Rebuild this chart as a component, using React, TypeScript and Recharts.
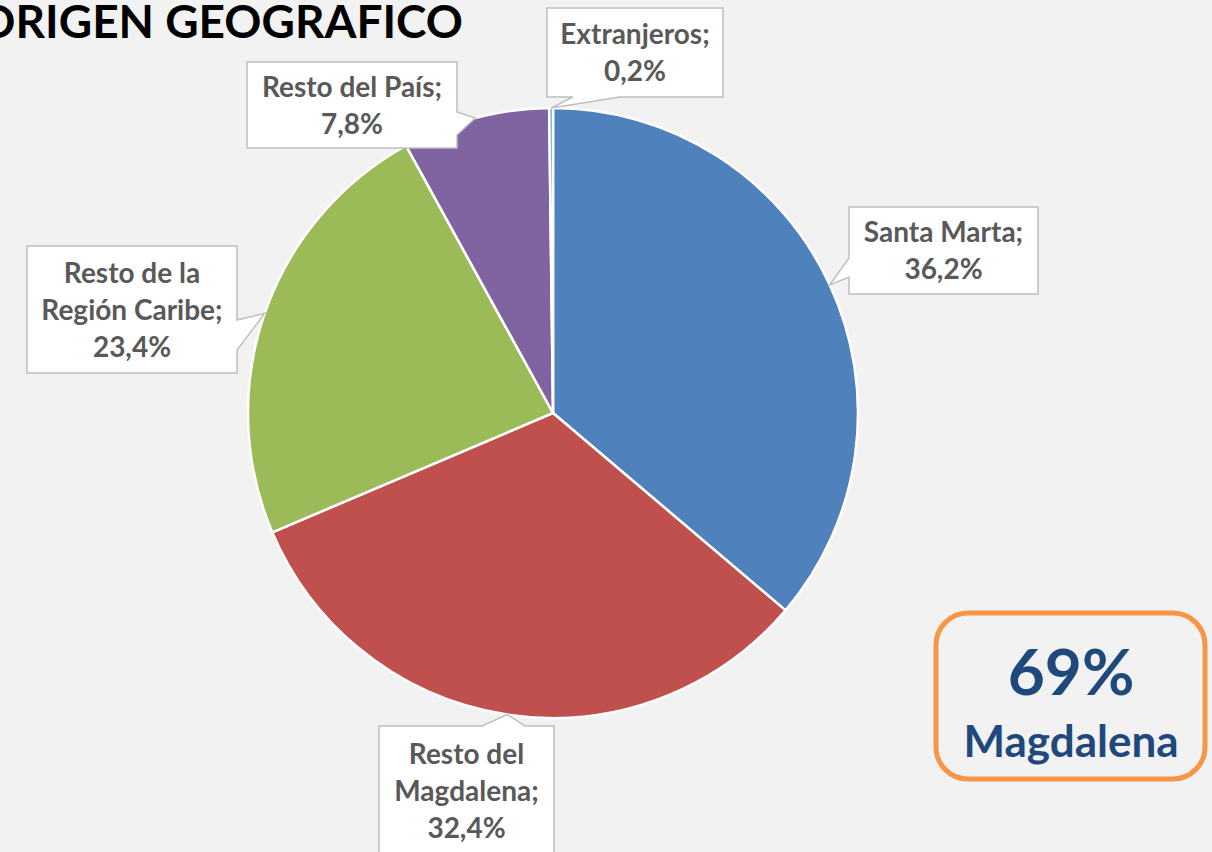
import React from 'react'
import { PieChart, Pie, Cell } from 'recharts'

// data
const categories = ['Santa Marta', 'Resto del Magdalena', 'Resto de la Región Caribe', 'Resto del País', 'Extranjeros']
const shares = [36.2, 32.4, 23.4, 7.8, 0.2]
const sliceColors = ['#4f81bd', '#c0504d', '#9bbb59', '#8064a2', '#4bacc6']
const wordsPerLine = [[2], [2, 1], [3, 2], [3], [1]]
const highlightValue = '69%'
const highlightLabel = 'Magdalena'
const title = 'ORIGEN GEOGRAFICO'

const data = categories.map((name, i) => ({ name, value: shares[i] }))

// callout boxes (layout only)
type Box = { x: number; y: number; w: number; h: number; side: 'top' | 'right' | 'bottom' | 'left'; a: number; b: number }
const boxes: Box[] = [
  { x: 849, y: 207, w: 189, h: 87, side: 'left', a: 258, b: 277 },
  { x: 379, y: 726, w: 175, h: 130, side: 'top', a: 482, b: 525 },
  { x: 27, y: 246, w: 210, h: 127, side: 'right', a: 320, b: 350 },
  { x: 247, y: 62, w: 210, h: 86, side: 'right', a: 112, b: 135 },
  { x: 547, y: 8, w: 176, h: 89, side: 'bottom', a: 573, b: 620 },
]

const FONT = 'Lato, "Open Sans", sans-serif'
const RAD = Math.PI / 180
const LINE = 37

const calloutPath = (bx: Box, tx: number, ty: number) => {
  const { x, y, w, h, side, a, b } = bx
  let d = `M${x},${y}`
  if (side === 'top') d += ` L${a},${y} L${tx},${ty} L${b},${y}`
  d += ` L${x + w},${y}`
  if (side === 'right') d += ` L${x + w},${a} L${tx},${ty} L${x + w},${b}`
  d += ` L${x + w},${y + h}`
  if (side === 'bottom') d += ` L${b},${y + h} L${tx},${ty} L${a},${y + h}`
  d += ` L${x},${y + h}`
  if (side === 'left') d += ` L${x},${b} L${tx},${ty} L${x},${a}`
  return d + ' Z'
}

const splitName = (name: string, counts: number[]) => {
  const words = name.split(' ')
  const lines: string[] = []
  let k = 0
  counts.forEach((c) => {
    lines.push(words.slice(k, k + c).join(' '))
    k += c
  })
  lines[lines.length - 1] += ';'
  return lines
}

const renderCallout = (props: any) => {
  const { cx, cy, midAngle, outerRadius, index, value, name } = props
  const bx = boxes[index]
  const tx = cx + outerRadius * Math.cos(-midAngle * RAD)
  const ty = cy + outerRadius * Math.sin(-midAngle * RAD)
  const lines = [...splitName(name, wordsPerLine[index]), `${Number(value).toFixed(1).replace('.', ',')}%`]
  const midX = bx.x + bx.w / 2
  const first = bx.y + bx.h / 2 - ((lines.length - 1) * LINE) / 2 + 10
  return (
    <g key={`callout-${index}`}>
      <path d={calloutPath(bx, tx, ty)} fill="#ffffff" stroke="#bfbfbf" strokeWidth={1.5} />
      {lines.map((t, j) => (
        <text
          key={j}
          x={midX}
          y={first + j * LINE}
          textAnchor="middle"
          fontFamily={FONT}
          fontWeight={700}
          fontSize={28}
          fill="#595959"
        >
          {t}
        </text>
      ))}
    </g>
  )
}

export default function App() {
  return (
    <div style={{ position: 'relative', width: 1212, height: 852, background: '#f2f2f2', overflow: 'hidden' }}>
      <style>{`body{margin:0;background:#f2f2f2}`}</style>
      <PieChart width={1212} height={852} margin={{ top: 0, right: 0, bottom: 0, left: 0 }}>
        <Pie
          data={data}
          dataKey="value"
          nameKey="name"
          cx={553}
          cy={413}
          outerRadius={305}
          startAngle={90}
          endAngle={-270}
          stroke="#ffffff"
          strokeWidth={2.5}
          label={renderCallout}
          labelLine={false}
          isAnimationActive={false}
        >
          {data.map((d, i) => (
            <Cell key={d.name} fill={sliceColors[i]} />
          ))}
        </Pie>
      </PieChart>
      <svg width={1212} height={852} style={{ position: 'absolute', left: 0, top: 0, pointerEvents: 'none' }}>
        <text x={463} y={38} textAnchor="end" fontFamily={FONT} fontWeight={700} fontSize={46} fill="#000000">
          {title}
        </text>
        <rect x={936} y={613} width={269} height={166} rx={32} ry={32} fill="none" stroke="#f79646" strokeWidth={5} />
        <text x={1071} y={695} textAnchor="middle" fontFamily={FONT} fontWeight={700} fontSize={64} fill="#1f497d">
          {highlightValue}
        </text>
        <text x={1071} y={757} textAnchor="middle" fontFamily={FONT} fontWeight={700} fontSize={44} fill="#1f497d">
          {highlightLabel}
        </text>
      </svg>
    </div>
  )
}
